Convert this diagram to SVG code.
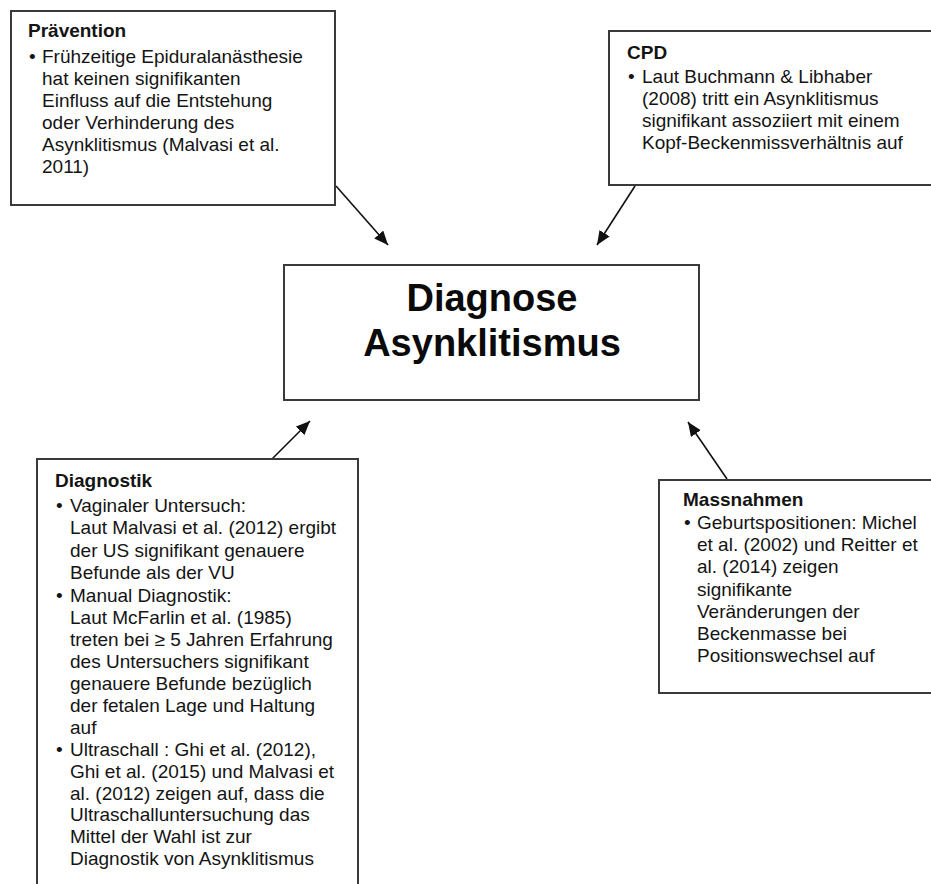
<svg xmlns="http://www.w3.org/2000/svg" width="931" height="884" viewBox="0 0 931 884">
<style>
  .box { fill: #ffffff; stroke: #3a3a3a; stroke-width: 2; }
  .t { font-family: "Liberation Sans", Arial, sans-serif; font-size: 19px; fill: #141414; }
  .h { font-weight: bold; }
  .big { font-family: "Liberation Sans", Arial, sans-serif; font-size: 38px; font-weight: bold; fill: #0a0a0a; text-anchor: middle; }
  .conn { stroke: #111111; stroke-width: 1.6; fill: none; marker-end: url(#ah); }
</style>
<defs>
  <marker id="ah" markerUnits="userSpaceOnUse" markerWidth="16" markerHeight="14" refX="14" refY="6" orient="auto">
    <path d="M0,0 L14,6 L0,12 Z" fill="#111111"/>
  </marker>
</defs>
<rect width="931" height="884" fill="#ffffff"/>

<g id="connectors">
  <line class="conn" x1="336" y1="186" x2="388" y2="245"/>
  <line class="conn" x1="635" y1="186" x2="597" y2="245"/>
  <line class="conn" x1="272" y1="459" x2="310" y2="421"/>
  <line class="conn" x1="727" y1="479" x2="688" y2="422"/>
</g>

<g id="praevention">
  <rect class="box" x="11" y="11" width="324" height="194"/>
  <text class="t h" x="28" y="37">Prävention</text>
  <text class="t" x="29" y="63">•</text>
  <text class="t" x="42" y="63">Frühzeitige Epiduralanästhesie</text>
  <text class="t" x="42" y="85">hat keinen signifikanten</text>
  <text class="t" x="42" y="107">Einfluss auf die Entstehung</text>
  <text class="t" x="42" y="129">oder Verhinderung des</text>
  <text class="t" x="42" y="151">Asynklitismus (Malvasi et al.</text>
  <text class="t" x="42" y="173">2011)</text>
</g>

<g id="cpd">
  <rect class="box" x="609" y="31" width="340" height="154"/>
  <text class="t h" x="627" y="59">CPD</text>
  <text class="t" x="628" y="83">•</text>
  <text class="t" x="642" y="83">Laut Buchmann &amp; Libhaber</text>
  <text class="t" x="642" y="105">(2008) tritt ein Asynklitismus</text>
  <text class="t" x="642" y="127">signifikant assoziiert mit einem</text>
  <text class="t" x="642" y="149">Kopf-Beckenmissverhältnis auf</text>
</g>

<g id="diagnose">
  <rect class="box" x="284" y="265" width="415" height="135"/>
  <text class="big" x="492" y="311">Diagnose</text>
  <text class="big" x="492" y="356">Asynklitismus</text>
</g>

<g id="diagnostik">
  <rect class="box" x="37" y="459" width="321" height="450"/>
  <text class="t h" x="55" y="487">Diagnostik</text>
  <text class="t" x="56" y="512">•</text>
  <text class="t" x="70" y="512">Vaginaler Untersuch:</text>
  <text class="t" x="70" y="534">Laut Malvasi et al. (2012) ergibt</text>
  <text class="t" x="70" y="557">der US signifikant genauere</text>
  <text class="t" x="70" y="579">Befunde als der VU</text>
  <text class="t" x="56" y="602">•</text>
  <text class="t" x="70" y="602">Manual Diagnostik:</text>
  <text class="t" x="70" y="624">Laut McFarlin et al. (1985)</text>
  <text class="t" x="70" y="646">treten bei ≥ 5 Jahren Erfahrung</text>
  <text class="t" x="70" y="668">des Untersuchers signifikant</text>
  <text class="t" x="70" y="690">genauere Befunde bezüglich</text>
  <text class="t" x="70" y="712">der fetalen Lage und Haltung</text>
  <text class="t" x="70" y="734">auf</text>
  <text class="t" x="56" y="756">•</text>
  <text class="t" x="70" y="756">Ultraschall : Ghi et al. (2012),</text>
  <text class="t" x="70" y="778">Ghi et al. (2015) und Malvasi et</text>
  <text class="t" x="70" y="800">al. (2012) zeigen auf, dass die</text>
  <text class="t" x="70" y="821">Ultraschalluntersuchung das</text>
  <text class="t" x="70" y="843">Mittel der Wahl ist zur</text>
  <text class="t" x="70" y="865">Diagnostik von Asynklitismus</text>
</g>

<g id="massnahmen">
  <rect class="box" x="659" y="480" width="290" height="213"/>
  <text class="t h" x="683" y="506">Massnahmen</text>
  <text class="t" x="684" y="529">•</text>
  <text class="t" x="697" y="529">Geburtspositionen: Michel</text>
  <text class="t" x="697" y="551">et al. (2002) und Reitter et</text>
  <text class="t" x="697" y="573">al. (2014) zeigen</text>
  <text class="t" x="697" y="596">signifikante</text>
  <text class="t" x="697" y="618">Veränderungen der</text>
  <text class="t" x="697" y="640">Beckenmasse bei</text>
  <text class="t" x="697" y="662">Positionswechsel auf</text>
</g>
</svg>
